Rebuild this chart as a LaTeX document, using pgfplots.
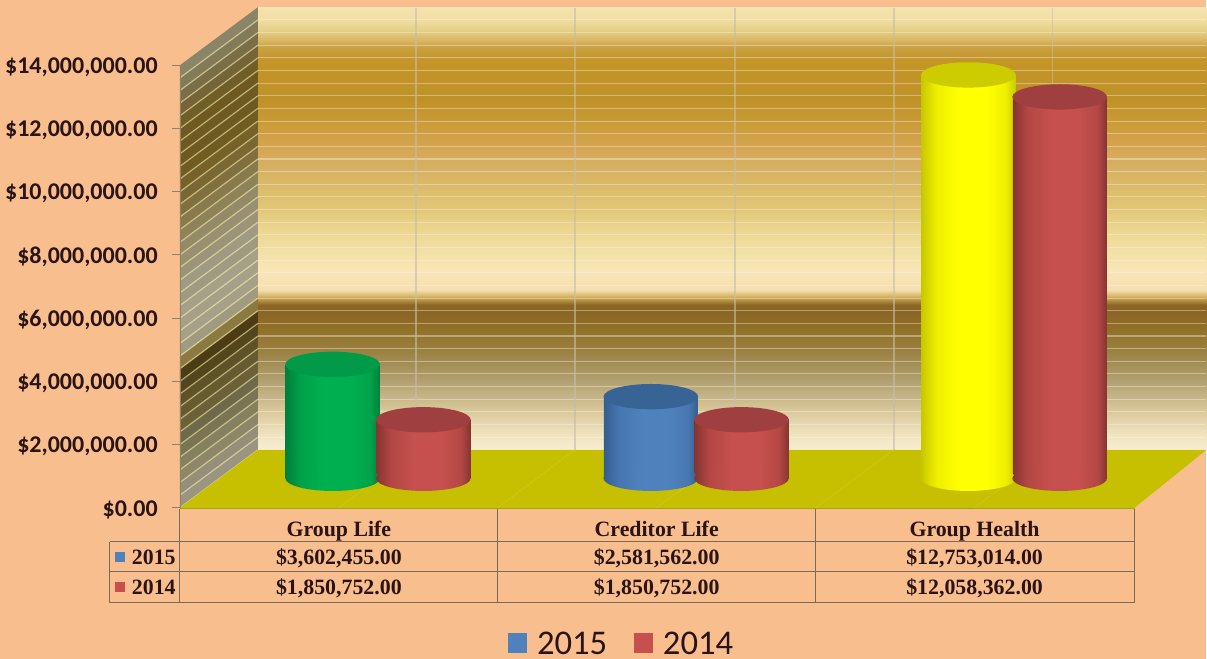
\documentclass[border=0pt]{standalone}
\usepackage{pgfplots}
\pgfplotsset{compat=1.18}
\usepackage{fontspec}
\setmainfont{Carlito}
\newfontfamily\tb{Liberation Serif}
\usetikzlibrary{shadings}
\definecolor{peach}{HTML}{F9BE8E}
\definecolor{ink}{HTML}{2A1416}
\definecolor{tline}{HTML}{7A6A5A}
\definecolor{floorc}{HTML}{C6C000}
\definecolor{vgrid}{HTML}{C8BCA8}
\definecolor{fgrid}{HTML}{D6D050}
\definecolor{fedge}{HTML}{A8A020}
\definecolor{cgreen}{HTML}{00B050}
\definecolor{cgreend}{HTML}{00803C}
\definecolor{cgreent}{HTML}{009A48}
\definecolor{cblue}{HTML}{4F81BD}
\definecolor{cblued}{HTML}{345E90}
\definecolor{cbluet}{HTML}{386495}
\definecolor{cred}{HTML}{C6504D}
\definecolor{credd}{HTML}{863431}
\definecolor{credt}{HTML}{A03F40}
\definecolor{cyel}{HTML}{FFFF00}
\definecolor{cyeld}{HTML}{C8C800}
\definecolor{cyelt}{HTML}{CCCC00}
\newcommand{\cylshade}[3]{%
 \pgfdeclarehorizontalshading{#1}{100bp}{
 color(0bp)=(#2);color(25bp)=(#2);color(33bp)=(#3!70!#2);color(45bp)=(#3);color(60bp)=(#3);color(70bp)=(#3!70!#2);color(75bp)=(#2);color(100bp)=(#2)}}
\cylshade{cylgreen}{cgreend}{cgreen}
\cylshade{cylblue}{cblued}{cblue}
\cylshade{cylred}{credd}{cred}
\cylshade{cylyel}{cyeld}{cyel}
% wall: bp = 25 + (450 - y)/8.84
\definecolor{w1}{HTML}{F8EED0}\definecolor{w2}{HTML}{F0E3C0}\definecolor{w3}{HTML}{D8C89A}
\definecolor{w4}{HTML}{B0A070}\definecolor{w5}{HTML}{9A8040}\definecolor{w6}{HTML}{917128}
\definecolor{w7}{HTML}{8A6525}\definecolor{w8}{HTML}{C9A850}\definecolor{w9}{HTML}{F5DFB0}
\definecolor{w10}{HTML}{F9E6B8}\definecolor{w11}{HTML}{F1E0A4}\definecolor{w12}{HTML}{ECD690}
\definecolor{w13}{HTML}{E2C878}\definecolor{w14}{HTML}{DCBD6C}\definecolor{w15}{HTML}{D4B060}
\definecolor{w16}{HTML}{D6A755}\definecolor{w17}{HTML}{C99A35}\definecolor{w18}{HTML}{BF9228}
\definecolor{w19}{HTML}{C49528}\definecolor{w20}{HTML}{C9A040}\definecolor{w21}{HTML}{D9B864}
\definecolor{w22}{HTML}{E5D08A}\definecolor{w23}{HTML}{F0DD9F}\definecolor{w24}{HTML}{F5E3B0}
\pgfdeclareverticalshading{wallg}{100bp}{
 color(0bp)=(w1);color(25bp)=(w1);color(26.7bp)=(w2);color(29.5bp)=(w3);color(32.9bp)=(w4);
 color(36.3bp)=(w5);color(38.6bp)=(w6);color(40.6bp)=(w7);color(41.4bp)=(w7);color(42.2bp)=(w8);
 color(43.1bp)=(w9);color(45.4bp)=(w10);color(47.6bp)=(w11);color(49.9bp)=(w12);color(52.1bp)=(w13);
 color(54.4bp)=(w14);color(57.2bp)=(w15);color(58.9bp)=(w16);color(62.3bp)=(w17);color(64.6bp)=(w18);
 color(69.1bp)=(w19);color(70.5bp)=(w20);color(71.4bp)=(w21);color(72.5bp)=(w22);color(73.6bp)=(w23);
 color(75bp)=(w24);color(100bp)=(w24)}
\pgfdeclareplotmark{capgreen}{\path[rotate=7,draw=none,shading=cylgreen] (0pt,0pt) ellipse (35.5pt and 9.5pt);}
\pgfdeclareplotmark{capblue}{\path[rotate=7,draw=none,shading=cylblue] (0pt,0pt) ellipse (35.5pt and 9.5pt);}
\pgfdeclareplotmark{capred}{\path[rotate=7,draw=none,shading=cylred] (0pt,0pt) ellipse (35.5pt and 9.5pt);}
\pgfdeclareplotmark{capyel}{\path[rotate=7,draw=none,shading=cylyel] (0pt,0pt) ellipse (35.5pt and 9.5pt);}
\pgfdeclareplotmark{topgreen}{\path[rotate=7,draw=none,fill=cgreent] (0pt,0pt) ellipse (35.5pt and 9.5pt);}
\pgfdeclareplotmark{topblue}{\path[rotate=7,draw=none,fill=cbluet] (0pt,0pt) ellipse (35.5pt and 9.5pt);}
\pgfdeclareplotmark{topred}{\path[rotate=7,draw=none,fill=credt] (0pt,0pt) ellipse (35.5pt and 9.5pt);}
\pgfdeclareplotmark{topyel}{\path[rotate=7,draw=none,fill=cyelt] (0pt,0pt) ellipse (35.5pt and 9.5pt);}
\newcommand{\cyl}[5]{% x, value, shade, cap, top
 \addplot[only marks,mark=#4,forget plot] coordinates {(#1,0)};
 \addplot[ybar,bar width=70.5pt,bar shift=0pt,draw=none,shading=#3,forget plot] coordinates {(#1,#2)};
 \addplot[only marks,mark=#5,forget plot] coordinates {(#1,#2)};
}
\begin{document}
\begin{tikzpicture}
\begin{scope}[x=0.75pt,y=-0.75pt]
\fill[peach] (0,0) rectangle (1207,659);
% wall
\path[shading=wallg] (258,8) rectangle (1207,450);
% side wall, strip by strip from the floor up
\foreach \k/\c in {0/9A9480,1/958E78,2/8E8668,3/85805F,4/7A7454,5/70684A,6/6B6038,7/665A30,8/5F5228,9/54461C,10/4C3C14,11/8A7A40,12/A09A80,13/A6A088,14/A6A088,15/A6A088,16/A09A82,17/A09A82,18/9C9478,19/989070,20/948A68,21/8E8258,22/887A4C,23/807040,24/7A6834,25/766228,26/705C20,27/6E5A20,28/6E5A20,29/6E5A20,30/705E28,31/746438,32/7A6E48,33/827A58,34/8A8468}{
 \definecolor{stripc}{HTML}{\c}
 \fill[stripc] (180,508.3-12.65*\k) -- (258,450.3-12.65*\k) -- (258,450-12.65*\k-12.65) -- (180,508-12.65*\k-12.65) -- cycle;
}
\foreach \k in {0,...,34}{
 \draw[white!80!peach,opacity=.4,line width=.8pt] (258,450-12.65*\k) -- (1207,450-12.65*\k);
 \draw[white!70!yellow,opacity=.55,line width=.9pt] (180,508-12.65*\k) -- (258,450-12.65*\k);
}
\foreach \xb in {416,575,735,894,1053}
 \draw[vgrid,opacity=.6,line width=1.4pt] (\xb,8) -- (\xb,450);
\fill[floorc] (180,508) -- (258,450) -- (1207,450) -- (1135,508) -- cycle;
\foreach \xb/\xf in {416/339,575/498,735/657,894/816,1053/975}
 \draw[fgrid,opacity=.35,line width=.6pt] (\xb,450) -- (\xf,508);
\draw[fedge,line width=1pt] (180,508.5) -- (1135,508.5);
% table
\draw[tline,line width=.7pt] (180,509) -- (180,603) (498,509) -- (498,603) (816,509) -- (816,603) (1134.5,509) -- (1134.5,603)
 (110,542) -- (1134.5,542) (110,572) -- (1134.5,572) (110,603) -- (1134.5,603) (110,542) -- (110,603);
\fill[cblue] (115,552) rectangle (125,562);
\fill[cred] (115,582) rectangle (125,592);
\foreach \y/\t in {564.5/2015,594.5/2014} \node[text=ink,font=\tb\bfseries\fontsize{16.4}{18}\selectfont,anchor=base east,inner sep=0pt] at (176,\y) {\t};
\foreach \x/\a/\b/\c in {339/Group Life/{\$3,602,455.00}/{\$1,850,752.00},657/Creditor Life/{\$2,581,562.00}/{\$1,850,752.00},975/Group Health/{\$12,753,014.00}/{\$12,058,362.00}}{
 \node[text=ink,font=\tb\bfseries\fontsize{16.4}{18}\selectfont,anchor=base,inner sep=0pt] at (\x,536.5) {\a};
 \node[text=ink,font=\tb\bfseries\fontsize{16.4}{18}\selectfont,anchor=base,inner sep=0pt] at (\x,564.5) {\b};
 \node[text=ink,font=\tb\bfseries\fontsize{16.4}{18}\selectfont,anchor=base,inner sep=0pt] at (\x,594.5) {\c};
}
% legend
\fill[cblue] (508,633) rectangle (527,653);
\fill[cred] (634,633) rectangle (653,653);
\node[text=ink,font=\fontsize{26}{28}\selectfont,anchor=base west,inner sep=0pt] at (537,655) {2015};
\node[text=ink,font=\fontsize{26}{28}\selectfont,anchor=base west,inner sep=0pt] at (663,655) {2014};
\end{scope}
% front axis: ticks and labels
\begin{axis}[at={(135pt,-381pt)},anchor=south west,scale only axis,width=716.25pt,height=332.25pt,
 xmin=0,xmax=3,ymin=0,ymax=14000000,
 axis x line=none,axis y line=left,y axis line style={-,draw=gray!70!brown,line width=.6pt},
 ytick={0,2000000,4000000,6000000,8000000,10000000,12000000,14000000},
 yticklabels={\$0.00,{\$2,000,000.00},{\$4,000,000.00},{\$6,000,000.00},{\$8,000,000.00},{\$10,000,000.00},{\$12,000,000.00},{\$14,000,000.00}},
 y tick style={draw=gray!70!brown,line width=.6pt},tick align=outside,major tick length=6pt,
 yticklabel style={font=\bfseries\fontsize{18}{20}\selectfont,text=ink,xshift=-9.5pt,yshift=-1.5pt,inner sep=1pt},
 scaled y ticks=false,clip=false]
\addplot[draw=none,forget plot] coordinates {(0,0) (3,14000000)};
\end{axis}
% cylinders: same scale, base line raised by the depth of the floor
\begin{axis}[at={(135pt,-381pt)},anchor=south west,scale only axis,width=716.25pt,height=332.25pt,
 xmin=0,xmax=3,ymin=-932000,ymax=13068000,hide axis,clip=false]
\cyl{0.48}{3602455}{cylgreen}{capgreen}{topgreen}
\cyl{0.765}{1850752}{cylred}{capred}{topred}
\cyl{1.48}{2581562}{cylblue}{capblue}{topblue}
\cyl{1.765}{1850752}{cylred}{capred}{topred}
\cyl{2.478}{12753014}{cylyel}{capyel}{topyel}
\cyl{2.765}{12058362}{cylred}{capred}{topred}
\end{axis}
\end{tikzpicture}
\end{document}
